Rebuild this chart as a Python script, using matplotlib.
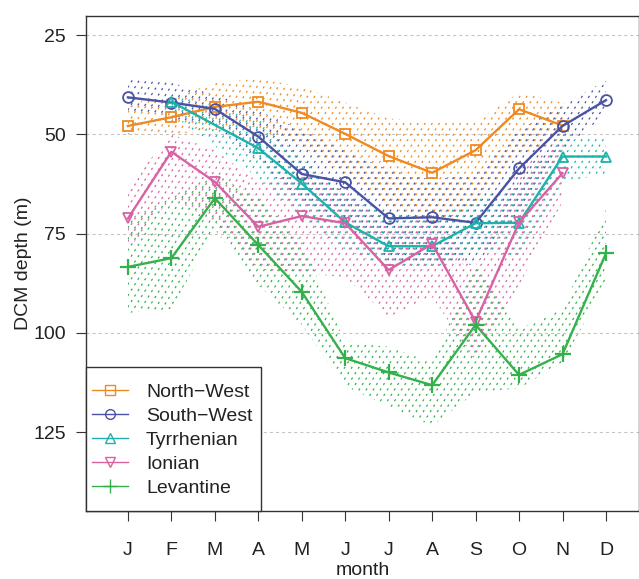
import numpy as np
import matplotlib
matplotlib.use("Agg")
import matplotlib.pyplot as plt
from matplotlib.collections import LineCollection
from matplotlib.path import Path
from matplotlib.lines import Line2D
from matplotlib.patches import Rectangle

plt.rcParams["font.family"] = ["Liberation Sans", "DejaVu Sans"]
plt.rcParams["font.size"] = 14
plt.rcParams["lines.scale_dashes"] = False

nan = np.nan
months = ["J", "F", "M", "A", "M", "J", "J", "A", "S", "O", "N", "D"]
regions = ["North\u2212West", "South\u2212West", "Tyrrhenian", "Ionian", "Levantine"]

# monthly mean DCM depth (m) per region
nw_mean = [47.9, 45.7, 43.1, 41.8, 44.6, 49.9, 55.5, 59.7, 54.0, 43.7, 47.8, nan]
sw_mean = [40.7, 42.0, 43.6, 50.6, 60.0, 62.1, 71.2, 70.9, 72.3, 58.6, 47.9, 41.4]
ty_mean = [nan, 41.8, nan, 53.5, 62.4, 72.2, 78.2, 78.2, 72.4, 72.3, 55.6, 55.6]
io_mean = [71.2, 54.4, 62.0, 73.3, 70.6, 72.4, 84.2, 77.6, 97.2, 72.2, 59.8, nan]
lv_mean = [83.4, 81.2, 66.1, 77.9, 89.7, 106.4, 110.0, 113.2, 98.0, 110.6, 105.4, 80.0]

# spread envelopes: shallow edge / deep edge
nw_top = [42, 41, 37, 36, 38, 42, 46, 47, 47, 39.5, 42, nan]
nw_bot = [50, 50, 49, 49, 53, 60, 68, 73, 68, 55, 52, nan]
sw_top = [35.5, 37, 40, 44, 49, 54, 59, 61.5, 60, 49, 42.5, 36.5]
sw_bot = [44, 46, 48, 57, 67, 73, 82, 82, 83, 70, 54, 45]
ty_top = [nan, 40, nan, 46, 56, 65, 70, 71, 66, 63, 50, 51]
ty_bot = [nan, 45, nan, 61, 71, 79, 84, 84, 79, 81, 62, 60]
io_top = [63, 50, 54, 62, 60, 64, 74, 70, 84, 58, 52, nan]
io_bot = [79, 66, 72, 84, 85, 86, 96, 91, 107, 88, 67, nan]
lv_top = [71.5, 66, 60, 66, 77, 102.5, 103.5, 107.5, 82.5, 99, 94, 69]
lv_bot = [95, 94, 74, 88, 98, 113.5, 118.5, 123.5, 115, 114, 107.5, 87.5]

colors = ["#EF8A23", "#4A53A3", "#1DB3AB", "#D762A4", "#34B04C"]
markers = ["s", "o", "^", "v", "+"]
means = [nw_mean, sw_mean, ty_mean, io_mean, lv_mean]
tops = [nw_top, sw_top, ty_top, io_top, lv_top]
bots = [nw_bot, sw_bot, ty_bot, io_bot, lv_bot]

W_PX, H_PX = 639, 579
fig = plt.figure(figsize=(W_PX / 100, H_PX / 100), dpi=100)
ax_l, ax_r, ax_t, ax_b = 86, 639, 16, 511
ax = fig.add_axes([ax_l / W_PX, 1 - ax_b / H_PX, (ax_r - ax_l) / W_PX, (ax_b - ax_t) / H_PX])
aw, ah = ax_r - ax_l, ax_b - ax_t

x = np.arange(1, 13)
ax.set_xlim(0.035, 12.76)
ax.set_ylim(144.9, 20.2)

for yv in [25, 50, 75, 100, 125]:
    ax.axhline(yv, color="#c4c4c4", lw=0.8, ls=(0, (2.2, 2.2)), zorder=0)


def hatch_band(xs, top, bot, color, phase):
    """Fill an envelope with dashed diagonal lines clipped to its outline."""
    xs = np.asarray(xs, float)
    top = np.asarray(top, float)
    bot = np.asarray(bot, float)
    ok = ~np.isnan(top)
    xv, tv, bv = xs[ok], top[ok], bot[ok]
    verts = list(zip(xv, tv)) + list(zip(xv[::-1], bv[::-1]))
    clip = Path(verts + [verts[0]], closed=True)
    ang = np.deg2rad(58)
    d = np.array([np.cos(ang), np.sin(ang)])
    n = np.array([-np.sin(ang), np.cos(ang)])
    spacing = 6.0
    span = np.hypot(aw, ah)
    segs = []
    for c in np.arange(-span, span, spacing) + phase:
        p0 = c * n - span * d
        p1 = c * n + span * d
        segs.append([(p0[0] / aw, p0[1] / ah), (p1[0] / aw, p1[1] / ah)])
    lc = LineCollection(segs, colors=color, linewidths=0.9,
                        linestyles=[(0, (1.6, 3.0))], transform=ax.transAxes,
                        alpha=1.0, zorder=1)
    lc.set_clip_path(clip, ax.transData)
    ax.add_collection(lc)


for i in range(5):
    hatch_band(x, tops[i], bots[i], colors[i], phase=i * 1.2)

for i in range(5):
    m = np.asarray(means[i], float)
    ok = ~np.isnan(m)
    is_plus = markers[i] == "+"
    ax.plot(x[ok], m[ok], color=colors[i], lw=1.7, marker=markers[i],
            markersize=11 if is_plus else 7.8,
            markerfacecolor="none", markeredgecolor=colors[i],
            markeredgewidth=1.6 if is_plus else 1.3, zorder=3 + i)

ax.set_xticks(x)
ax.set_xticklabels(months)
ax.set_yticks([25, 50, 75, 100, 125])
ax.tick_params(axis="both", direction="out", length=7.5, width=0.8, color="#333333",
               labelcolor="#222222")
ax.tick_params(axis="x", pad=14.5)
ax.tick_params(axis="y", pad=7)
ax.set_xlabel("month", labelpad=2.5, color="#222222")
ax.set_ylabel("DCM depth (m)", labelpad=1, color="#222222")
for s in ax.spines.values():
    s.set_linewidth(1.0)
    s.set_color("#333333")

# legend box drawn as its own rectangle, entries placed inside it
box_w = (261 - ax_l) / aw
box_h = (ax_b - 367) / ah
ax.add_patch(Rectangle((0, 0), box_w, box_h, transform=ax.transAxes,
                       facecolor="white", edgecolor="#333333", lw=1.0, zorder=19,
                       clip_on=False))

handles = []
for i in range(5):
    is_plus = markers[i] == "+"
    handles.append(Line2D([], [], color=colors[i], lw=1.0, marker=markers[i],
                          markersize=10 if is_plus else 7, markerfacecolor="none",
                          markeredgecolor=colors[i], markeredgewidth=1.0))
leg = ax.legend(handles, regions, loc="upper left",
                bbox_to_anchor=((92 - ax_l) / aw, (ax_b - 383.5) / ah),
                borderaxespad=0, borderpad=0, frameon=False,
                handlelength=1.85, handletextpad=0.93, labelspacing=0.327,
                fontsize=14)
leg.set_zorder(20)
for t in leg.get_texts():
    t.set_color("#222222")

fig.savefig("out.png", dpi=100)
